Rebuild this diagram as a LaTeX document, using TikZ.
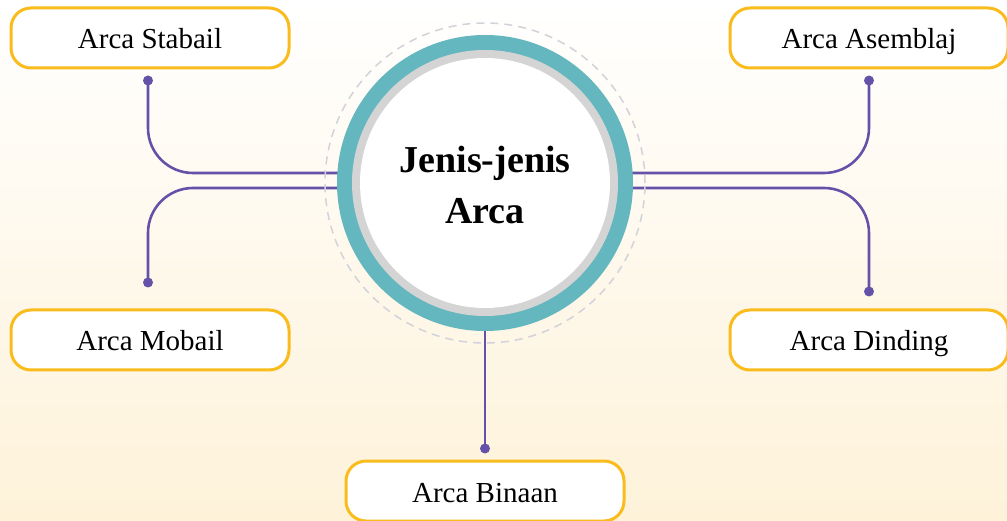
\documentclass[tikz,border=0pt]{standalone}
\usepackage{fontspec}
\setmainfont{Liberation Serif}
\usetikzlibrary{calc}
\definecolor{boxyellow}{HTML}{F9BC1C}
\definecolor{linepurple}{HTML}{6352A8}
\definecolor{ringteal}{HTML}{64B7BE}
\definecolor{ringgray}{HTML}{D4D4D4}
\definecolor{dashgray}{HTML}{D2D2DA}
\definecolor{bgcream}{HTML}{FEF2D9}

\begin{document}
\begin{tikzpicture}[x=1pt,y=-1pt,
  box/.style={draw=boxyellow, line width=3pt, fill=white, rounded corners=20pt,
    minimum width=278pt, minimum height=60pt, inner sep=0pt,
    text height=26pt, text depth=4pt, font=\fontsize{29}{32}\selectfont},
  conn/.style={draw=linepurple, line width=2.6pt, rounded corners=45pt},
  dot/.style={fill=linepurple}]
\useasboundingbox (0,0) rectangle (1007,521);
\shade[top color=white, bottom color=bgcream] (0,0) rectangle (1007,521);
% boxes
\node[box] (stabail) at (150,38) {Arca Stabail};
\node[box] (asemblaj) at (869,38) {Arca Asemblaj};
\node[box] (mobail) at (150,340) {Arca Mobail};
\node[box] (dinding) at (869,340) {Arca Dinding};
\node[box] (binaan) at (485,491) {Arca Binaan};
% end points
\coordinate (hub) at (485,183);
\coordinate (dStabail) at ($(stabail.south)+(-2,11)$);
\coordinate (dAsemblaj) at ($(asemblaj.south)+(0,11)$);
\coordinate (dMobail) at ($(mobail.north)+(-2,-26)$);
\coordinate (dDinding) at ($(dinding.north)+(0,-17)$);
\coordinate (dBinaan) at ($(binaan.north)+(0,-11)$);
% connectors
\draw[conn] (dStabail) |- ([yshift=10pt]hub);
\draw[conn] (dMobail) |- ([yshift=-5pt]hub);
\draw[conn] (dAsemblaj) |- ([yshift=10pt]hub);
\draw[conn] (dDinding) |- ([yshift=-5pt]hub);
\draw[conn] (dBinaan) -- (hub);
\foreach \d in {dStabail,dAsemblaj,dMobail,dDinding,dBinaan}
  \fill[dot] (\d) circle (5pt);
% centre
\draw[dashgray, line width=1.5pt, dash pattern=on 8pt off 6pt] (hub) circle (160pt);
\fill[ringteal] (hub) circle (148pt);
\fill[ringgray] (hub) circle (133pt);
\fill[white] (hub) circle (125pt);
\node[font=\bfseries\fontsize{38}{51}\selectfont, align=center] (title) at ([yshift=-2pt]hub) {Jenis-jenis\\Arca};
\end{tikzpicture}
\end{document}
